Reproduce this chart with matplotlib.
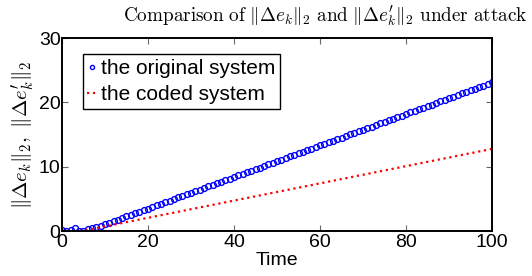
import numpy as np
import matplotlib.pyplot as plt

plt.rcParams['font.family'] = ['Liberation Sans', 'DejaVu Sans']
plt.rcParams['mathtext.fontset'] = 'cm'

time_steps = list(range(0, 101))

original = [0.10, 0.05, 0.10, 0.40, 0.05, 0.05, 0.30, 0.45, 0.60, 0.81,
            1.05, 1.30, 1.54, 1.79, 2.03, 2.28, 2.52, 2.77, 3.01, 3.26,
            3.50, 3.75, 3.99, 4.24, 4.48, 4.73, 4.97, 5.22, 5.46, 5.71,
            5.95, 6.20, 6.44, 6.69, 6.93, 7.18, 7.42, 7.67, 7.91, 8.16,
            8.40, 8.65, 8.89, 9.14, 9.38, 9.63, 9.87, 10.12, 10.36, 10.61,
            10.85, 11.10, 11.34, 11.59, 11.83, 12.08, 12.32, 12.57, 12.81, 13.06,
            13.30, 13.55, 13.79, 14.04, 14.28, 14.53, 14.77, 15.02, 15.26, 15.51,
            15.75, 16.00, 16.24, 16.49, 16.73, 16.98, 17.22, 17.47, 17.71, 17.96,
            18.20, 18.45, 18.69, 18.94, 19.18, 19.43, 19.67, 19.92, 20.16, 20.41,
            20.65, 20.90, 21.14, 21.39, 21.63, 21.88, 22.12, 22.37, 22.61, 22.86,
            23.10]

coded = [0.00, 0.00, 0.00, 0.00, 0.00, 0.04, 0.17, 0.31, 0.44, 0.58,
         0.71, 0.84, 0.98, 1.11, 1.25, 1.38, 1.51, 1.65, 1.78, 1.92,
         2.05, 2.18, 2.32, 2.45, 2.59, 2.72, 2.85, 2.99, 3.12, 3.26,
         3.39, 3.52, 3.66, 3.79, 3.93, 4.06, 4.19, 4.33, 4.46, 4.60,
         4.73, 4.86, 5.00, 5.13, 5.27, 5.40, 5.53, 5.67, 5.80, 5.94,
         6.07, 6.20, 6.34, 6.47, 6.61, 6.74, 6.87, 7.01, 7.14, 7.28,
         7.41, 7.54, 7.68, 7.81, 7.95, 8.08, 8.21, 8.35, 8.48, 8.62,
         8.75, 8.88, 9.02, 9.15, 9.29, 9.42, 9.55, 9.69, 9.82, 9.96,
         10.09, 10.22, 10.36, 10.49, 10.63, 10.76, 10.89, 11.03, 11.16, 11.30,
         11.43, 11.56, 11.70, 11.83, 11.97, 12.10, 12.23, 12.37, 12.50, 12.64,
         12.77]

fig = plt.figure(figsize=(5.32, 2.76), dpi=100)
ax = fig.add_axes([0.1165, 0.163, 0.8085, 0.699])

ax.plot(time_steps, original, 'o', color='blue', markerfacecolor='none',
        markersize=4.2, markeredgewidth=1.0, label='the original system')
ax.plot(time_steps, coded, ':', color='red', linewidth=1.6,
        label='the coded system')

ax.set_xlim(0, 100)
ax.set_ylim(0, 30)
ax.set_xticks([0, 20, 40, 60, 80, 100])
ax.set_yticks([0, 10, 20, 30])
ax.tick_params(direction='in', top=True, right=True, length=4, width=0.8,
               color='0.4', labelsize=14, pad=1)
ax.tick_params(axis='x', pad=2)
for s in ax.spines.values():
    s.set_linewidth(1.4)

ax.set_xlabel('Time', fontsize=14, labelpad=1)
ax.set_ylabel(r"$\|\Delta e_k\|_2,\ \|\Delta e_k'\|_2$", fontsize=15, labelpad=2)
ax.set_title(r"$\mathrm{Comparison\ of\ }\|\Delta e_k\|_2\mathrm{\ and\ }\|\Delta e_k'\|_2\mathrm{\ under\ attack}$",
             fontsize=13.8, pad=12, x=0.612)

leg = ax.legend(loc='upper left', bbox_to_anchor=(0.048, 0.915), fontsize=15,
                numpoints=1, handlelength=0.45, handletextpad=0.2,
                borderpad=0.22, labelspacing=0.35, borderaxespad=0,
                fancybox=False, framealpha=1, markerscale=0.7)
leg.get_frame().set_edgecolor('black')
leg.get_frame().set_linewidth(1.0)

fig.savefig('out.png', dpi=100)
